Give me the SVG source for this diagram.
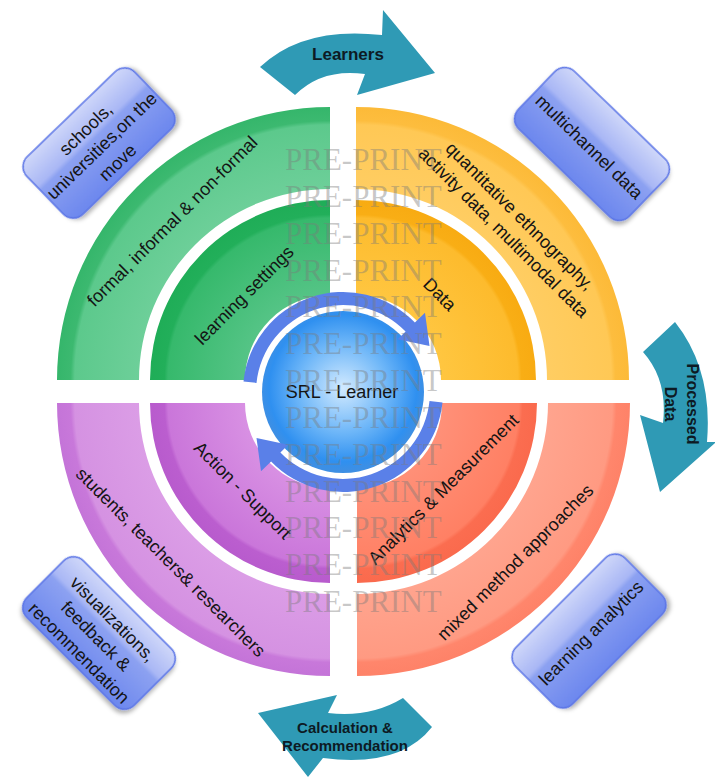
<svg xmlns="http://www.w3.org/2000/svg" width="715" height="778" viewBox="0 0 715 778">
<defs>
<style>
.t{font-family:"Liberation Sans",Arial,sans-serif;font-size:18px;fill:#141414;text-anchor:middle}
.b{font-family:"Liberation Sans",Arial,sans-serif;font-weight:bold;fill:#0d1a24;text-anchor:middle}
.wm{font-family:"Liberation Serif","Times New Roman",serif;font-size:31px;fill:#7a7a7a;fill-opacity:0.42}
.teal{fill:#2f9ab5}
.ring{fill:#5a80e8}
.box{fill:url(#boxg);stroke:#5a74e6;stroke-width:1.5;filter:url(#sh)}
</style>
<filter id="sh" x="-20%" y="-30%" width="140%" height="160%">
<feDropShadow dx="2" dy="3" stdDeviation="2" flood-color="#000" flood-opacity="0.3"/>
</filter>
<linearGradient id="boxg" x1="0" y1="0" x2="0" y2="1">
<stop offset="0" stop-color="#cfd7f9"/>
<stop offset="0.36" stop-color="#a9b7f5"/>
<stop offset="0.42" stop-color="#8ca1f1"/>
<stop offset="1" stop-color="#6c87ee"/>
</linearGradient>
<radialGradient id="circ" gradientUnits="userSpaceOnUse" cx="343" cy="388" r="82">
<stop offset="0" stop-color="#d2eaff"/>
<stop offset="0.55" stop-color="#6db6f8"/>
<stop offset="0.9" stop-color="#2f90f0"/>
<stop offset="1" stop-color="#3d8fe4"/>
</radialGradient>
<!-- green -->
<radialGradient id="gO" gradientUnits="userSpaceOnUse" cx="330" cy="380" r="273">
<stop offset="0.7" stop-color="#6dcf99"/><stop offset="0.935" stop-color="#5cc98c"/><stop offset="0.95" stop-color="#3cb970"/><stop offset="1" stop-color="#35b66b"/>
</radialGradient>
<radialGradient id="gI" gradientUnits="userSpaceOnUse" cx="330" cy="380" r="180">
<stop offset="0.47" stop-color="#55c486"/><stop offset="0.9" stop-color="#36b96c"/><stop offset="0.92" stop-color="#22af5a"/><stop offset="1" stop-color="#1fad57"/>
</radialGradient>
<!-- yellow -->
<radialGradient id="yO" gradientUnits="userSpaceOnUse" cx="356" cy="380" r="273">
<stop offset="0.7" stop-color="#ffcd62"/><stop offset="0.935" stop-color="#ffc855"/><stop offset="0.95" stop-color="#fdbd3e"/><stop offset="1" stop-color="#fcba38"/>
</radialGradient>
<radialGradient id="yI" gradientUnits="userSpaceOnUse" cx="356" cy="380" r="180">
<stop offset="0.47" stop-color="#ffc640"/><stop offset="0.9" stop-color="#fdbb2d"/><stop offset="0.92" stop-color="#f9ae15"/><stop offset="1" stop-color="#f8ab12"/>
</radialGradient>
<!-- orange -->
<radialGradient id="oO" gradientUnits="userSpaceOnUse" cx="357" cy="403" r="273">
<stop offset="0.7" stop-color="#ffa48e"/><stop offset="0.935" stop-color="#ff9a82"/><stop offset="0.95" stop-color="#ff866c"/><stop offset="1" stop-color="#fe8268"/>
</radialGradient>
<radialGradient id="oI" gradientUnits="userSpaceOnUse" cx="357" cy="403" r="180">
<stop offset="0.47" stop-color="#ff9078"/><stop offset="0.9" stop-color="#ff8064"/><stop offset="0.92" stop-color="#fb6d50"/><stop offset="1" stop-color="#fa6a4d"/>
</radialGradient>
<!-- purple -->
<radialGradient id="pO" gradientUnits="userSpaceOnUse" cx="330" cy="403" r="273">
<stop offset="0.7" stop-color="#db9de6"/><stop offset="0.935" stop-color="#d592e2"/><stop offset="0.95" stop-color="#c878da"/><stop offset="1" stop-color="#c474d8"/>
</radialGradient>
<radialGradient id="pI" gradientUnits="userSpaceOnUse" cx="330" cy="403" r="180">
<stop offset="0.47" stop-color="#d890e3"/><stop offset="0.9" stop-color="#ca76da"/><stop offset="0.92" stop-color="#bb5ecf"/><stop offset="1" stop-color="#b85bcd"/>
</radialGradient>
</defs>
<rect width="715" height="778" fill="#ffffff"/>

<g id="q-green">
<path d="M 57,380 A 273 273 0 0 1 330,107 L 330,189 A 191 191 0 0 0 139,380 Z" fill="url(#gO)"/>
<path d="M 150,380 A 180 180 0 0 1 330,200 L 330,295 A 85 85 0 0 0 245,380 Z" fill="url(#gI)"/>
<text class="t" transform="translate(172,221) rotate(-45)" y="6.5">formal, informal &amp; non-formal</text>
<text class="t" transform="translate(244,295) rotate(-45)" y="6.5">learning settings</text>
</g>

<g id="q-yellow">
<path d="M 356,107 A 273 273 0 0 1 629,380 L 547,380 A 191 191 0 0 0 356,189 Z" fill="url(#yO)"/>
<path d="M 356,200 A 180 180 0 0 1 536,380 L 441,380 A 85 85 0 0 0 356,295 Z" fill="url(#yI)"/>
<text class="t" transform="translate(512,224) rotate(45)"><tspan x="0" y="-5">quantitative ethnography,</tspan><tspan x="0" y="18">activity data, multimodal data</tspan></text>
<text class="t" transform="translate(440,294) rotate(45)" y="6.5">Data</text>
</g>

<g id="q-orange">
<path d="M 630,403 A 273 273 0 0 1 357,676 L 357,594 A 191 191 0 0 0 548,403 Z" fill="url(#oO)"/>
<path d="M 537,403 A 180 180 0 0 1 357,583 L 357,488 A 85 85 0 0 0 442,403 Z" fill="url(#oI)"/>
<text class="t" transform="translate(443,489) rotate(-45)" y="6.5">Analytics &amp; Measurement</text>
<text class="t" transform="translate(515,562) rotate(-45)" y="6.5">mixed method approaches</text>
</g>

<g id="q-purple">
<path d="M 330,676 A 273 273 0 0 1 57,403 L 139,403 A 191 191 0 0 0 330,594 Z" fill="url(#pO)"/>
<path d="M 330,583 A 180 180 0 0 1 150,403 L 245,403 A 85 85 0 0 0 330,488 Z" fill="url(#pI)"/>
<text class="t" transform="translate(243,490) rotate(45)" y="6.5">Action - Support</text>
<text class="t" transform="translate(171,562) rotate(45)" y="6.5">students, teachers&amp; researchers</text>
</g>

<g id="center">
<circle cx="343" cy="392" r="88" fill="#ffffff"/>
<circle cx="343" cy="392" r="81" fill="url(#circ)"/>
<text class="t" x="342" y="397.5">SRL - Learner</text>
</g>

<g id="connectors">
<path class="ring" d="M 243.5,381.5 A 100 100 0 0 1 414.9,322.5 L 425,312.8 L 429.5,346 L 397.7,339.2 L 405.6,331.6 A 87 87 0 0 0 256.5,382.9 Z"/>
<path class="ring" d="M 442.5,402.5 A 100 100 0 0 1 271.1,461.5 L 261,471.2 L 256.5,438 L 288.3,444.8 L 280.4,452.4 A 87 87 0 0 0 429.5,401.1 Z"/>
</g>

<g id="arrow-learners">
<path class="teal" d="M 260,67 Q 303,26 382,35 L 383,10 L 435,73 L 357,95 L 365,74 Q 322,68 295,95 Z"/>
<text class="b" x="348" y="59.5" font-size="17">Learners</text>
</g>

<g id="arrow-processed">
<path class="teal" d="M 675,322 Q 713,370 707,442 L 716,442 L 660,492 L 640,415 L 663,423 Q 668,380 643,352 Z"/>
<text class="b" font-size="16" transform="translate(681,404) rotate(90)"><tspan x="0" y="-5.5">Processed</tspan><tspan x="0" y="16.5">Data</tspan></text>
</g>

<g id="arrow-calc">
<path class="teal" d="M 337,695 L 258,713 L 308,777 L 323,758 Q 400,768 432,727 L 403,698 Q 370,718 328,713 Z"/>
<text class="b" font-size="15" x="345" y="732.5">Calculation &amp;</text>
<text class="b" font-size="15" x="345" y="750.5">Recommendation</text>
</g>

<g id="box-schools" transform="translate(99,143) rotate(-44)">
<rect class="box" x="-75" y="-40" width="150" height="80" rx="14"/>
<text class="t"><tspan x="0" y="-13">schools,</tspan><tspan x="0" y="10">universities,on the</tspan><tspan x="0" y="33">move</tspan></text>
</g>

<g id="box-multichannel" transform="translate(592,144) rotate(44)">
<rect class="box" x="-77" y="-40" width="154" height="80" rx="14"/>
<text class="t" x="0" y="10">multichannel data</text>
</g>

<g id="box-visualizations" transform="translate(99,633) rotate(45)">
<rect class="box" x="-76" y="-40" width="152" height="80" rx="14"/>
<text class="t"><tspan x="0" y="-13.5">visualizations,</tspan><tspan x="0" y="10.5">feedback &amp;</tspan><tspan x="0" y="34.5">recommendation</tspan></text>
</g>

<g id="box-analytics" transform="translate(589,631) rotate(-45)">
<rect class="box" x="-77" y="-40" width="154" height="80" rx="14"/>
<text class="t" x="0" y="9">learning analytics</text>
</g>

<g id="watermark">
<text class="wm" x="285" y="170">PRE-PRINT</text>
<text class="wm" x="285" y="206.8">PRE-PRINT</text>
<text class="wm" x="285" y="243.7">PRE-PRINT</text>
<text class="wm" x="285" y="280.5">PRE-PRINT</text>
<text class="wm" x="285" y="317.3">PRE-PRINT</text>
<text class="wm" x="285" y="354.2">PRE-PRINT</text>
<text class="wm" x="285" y="391">PRE-PRINT</text>
<text class="wm" x="285" y="427.8">PRE-PRINT</text>
<text class="wm" x="285" y="464.7">PRE-PRINT</text>
<text class="wm" x="285" y="501.5">PRE-PRINT</text>
<text class="wm" x="285" y="538.3">PRE-PRINT</text>
<text class="wm" x="285" y="575.2">PRE-PRINT</text>
<text class="wm" x="285" y="612">PRE-PRINT</text>
</g>
</svg>
